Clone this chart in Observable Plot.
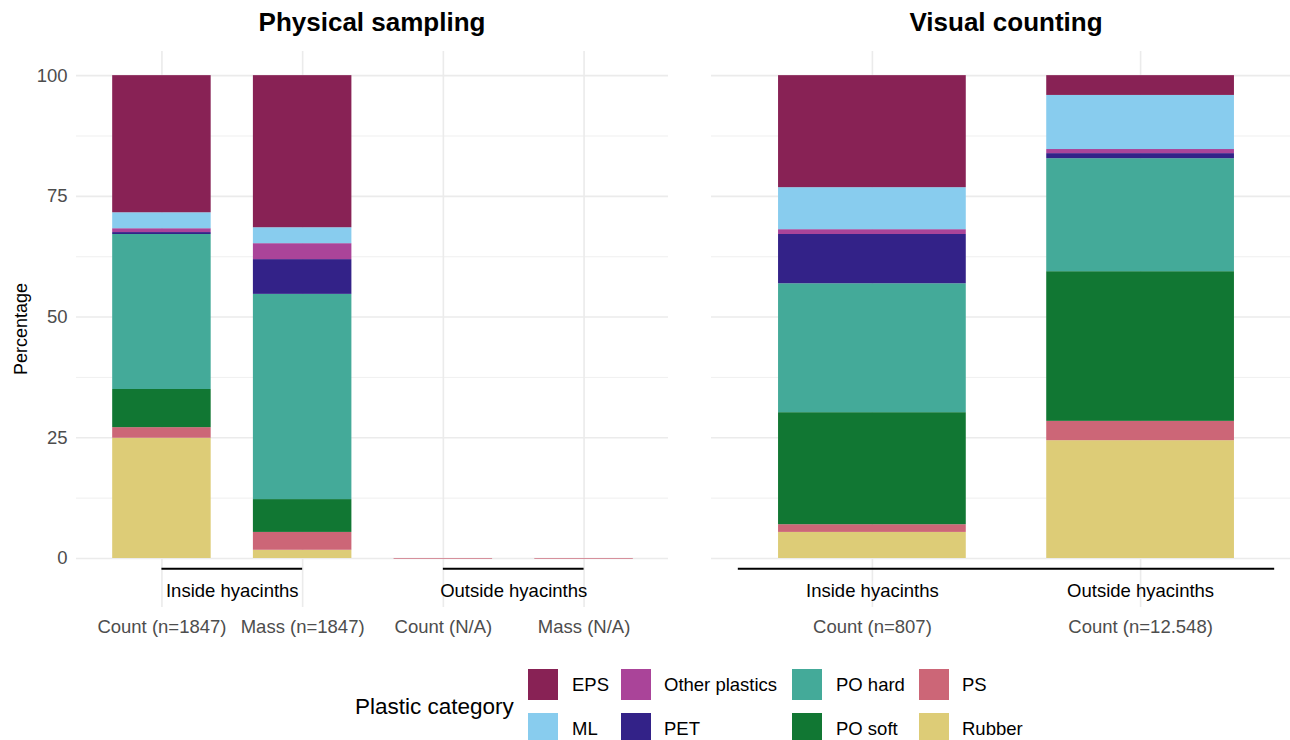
<!DOCTYPE html>
<html>
<head>
<meta charset="utf-8">
<script src="https://cdn.jsdelivr.net/npm/d3@7"></script>
<script src="https://cdn.jsdelivr.net/npm/@observablehq/plot@0.6"></script>
<style>
  html, body { margin: 0; padding: 0; background: #fff; }
  #root { position: relative; width: 1290px; height: 740px; overflow: hidden; font-family: "Liberation Sans", Arial, Helvetica, sans-serif; }
  .abs { position: absolute; white-space: nowrap; }
  .title { font-weight: bold; font-size: 26px; color: #000; transform: translateX(-50%); }
  .ylab { font-size: 18px; color: #000; transform: translate(-50%, -50%) rotate(-90deg); }
  .legtitle { font-size: 22.5px; color: #000; transform: translateY(-50%); }
  .legtext { font-size: 18.5px; color: #000; transform: translateY(-50%); }
  .sw { position: absolute; width: 30px; height: 31px; }
</style>
</head>
<body>
<div id="root"></div>
<script>
// ---------- data ----------
const categories = ["EPS", "ML", "Other plastics", "PET", "PO hard", "PO soft", "PS", "Rubber"];
const colors = ["#882255", "#88CCEE", "#AA4499", "#332288", "#44AA99", "#117733", "#CC6677", "#DDCC77"];
const stackOrder = ["Rubber", "PS", "PO soft", "PO hard", "PET", "Other plastics", "ML", "EPS"];

const facetTitles = ["Physical sampling", "Visual counting"];

const physSamples = ["Count (n=1847)", "Mass (n=1847)", "Count (N/A)", "Mass (N/A)"];
const physGroups = ["Inside hyacinths", "Inside hyacinths", "Outside hyacinths", "Outside hyacinths"];
// values in order of `categories`
const physCount = [28.4, 3.3, 0.8, 0.4, 32.1, 7.9, 2.2, 24.9];
const physMass = [31.5, 3.3, 3.3, 7.2, 42.5, 6.8, 3.7, 1.7];
const physCountNA = [0, 0, 0, 0, 0, 0, 0, 0];
const physMassNA = [0, 0, 0, 0, 0, 0, 0, 0];

const visSamples = ["Count (n=807)", "Count (n=12.548)"];
const visGroups = ["Inside hyacinths", "Outside hyacinths"];
const visInside = [23.2, 8.7, 1.0, 10.2, 26.7, 23.2, 1.6, 5.4];
const visOutside = [4.1, 11.2, 0.85, 1.05, 23.4, 31.0, 4.0, 24.4];

const yTicks = [0, 25, 50, 75, 100];
const yMinor = [12.5, 37.5, 62.5, 87.5];

// ---------- helpers ----------
function stackRows(seriesList) {
  const rows = [];
  seriesList.forEach((vals, i) => {
    let acc = 0;
    stackOrder.forEach(cat => {
      const v = vals[categories.indexOf(cat)];
      rows.push({ i, cat, y1: acc, y2: acc + v, v });
      acc += v;
    });
  });
  return rows;
}
function groupSpans(groups) {
  const names = Array.from(new Set(groups));
  return names.map(name => {
    const idx = groups.map((g, i) => g === name ? i : -1).filter(i => i >= 0);
    let start = d3.min(idx), end = d3.max(idx);
    if (start === end) { start -= 0.5; end += 0.5; }
    return { name, start, end, mid: (start + end) / 2 };
  });
}

const FONT = '"Liberation Sans", Arial, Helvetica, sans-serif';
const GRID = "#ebebeb";
const HALF = 0.35; // half bar width in category units

function panel({ samples, groups, series, width, marginLeft, xRange, showY }) {
  const rows = stackRows(series);
  const bars = rows.filter(d => d.v > 0);
  const empty = series.map((vals, i) => ({ i, total: d3.sum(vals) })).filter(d => d.total === 0);
  const spans = groupSpans(groups);
  const idx = samples.map((_, i) => i);
  const marks = [
    Plot.ruleY(yMinor, { stroke: GRID, strokeWidth: 0.8 }),
    Plot.ruleY(yTicks, { stroke: GRID, strokeWidth: 1.6 }),
    Plot.ruleX(idx, { stroke: GRID, strokeWidth: 1.6 }),
    Plot.rectY(bars, { x1: d => d.i - HALF, x2: d => d.i + HALF, y1: "y1", y2: "y2", fill: "cat" }),
    Plot.ruleY(empty, { x1: d => d.i - HALF, x2: d => d.i + HALF, y: "total", stroke: colors[categories.indexOf("PS")], strokeOpacity: 0.7, strokeWidth: 1 }),
    Plot.ruleY(spans, { x1: "start", x2: "end", y: -2.1, stroke: "#000", strokeWidth: 2 }),
    Plot.text(spans, { x: "mid", y: -6.7, text: "name", fill: "#000", fontSize: 18.5 }),
    Plot.axisX({ ticks: idx, tickFormat: i => samples[i], tickSize: 0, tickPadding: 12, label: null, fontSize: 18.5 })
  ];
  if (showY) marks.push(Plot.axisY({ ticks: yTicks, tickSize: 0, tickPadding: 9, label: null, fontSize: 18.5 }));
  else marks.push(Plot.axisY({ ticks: [], label: null }));
  return Plot.plot({
    width, height: 645,
    marginLeft, marginRight: 0, marginTop: 51, marginBottom: 38,
    x: { domain: [-0.6, samples.length - 0.4], range: xRange },
    y: { domain: [-10.15, 105] },
    color: { domain: categories, range: colors },
    style: { fontFamily: FONT, fontSize: "18.5px", color: "#4d4d4d", background: "transparent", overflow: "visible" },
    marks
  });
}

const root = document.getElementById("root");

const left = panel({ samples: physSamples, groups: physGroups, series: [physCount, physMass, physCountNA, physMassNA],
  width: 668, marginLeft: 76, xRange: [77, 668], showY: true });
left.style.position = "absolute"; left.style.left = "0px"; left.style.top = "0px";
root.appendChild(left);

const right = panel({ samples: visSamples, groups: visGroups, series: [visInside, visOutside],
  width: 579, marginLeft: 0, xRange: [0, 590], showY: false });
right.style.position = "absolute"; right.style.left = "711px"; right.style.top = "0px";
root.appendChild(right);

// facet titles
[[facetTitles[0], 372], [facetTitles[1], 1006]].forEach(([t, x]) => {
  const d = document.createElement("div");
  d.className = "abs title"; d.textContent = t;
  d.style.left = x + "px"; d.style.top = "7px";
  root.appendChild(d);
});

// y axis title
const yl = document.createElement("div");
yl.className = "abs ylab"; yl.textContent = "Percentage";
yl.style.left = "21px"; yl.style.top = "329px";
root.appendChild(yl);

// legend
const lt = document.createElement("div");
lt.className = "abs legtitle"; lt.textContent = "Plastic category";
lt.style.left = "355px"; lt.style.top = "707px";
root.appendChild(lt);
const swX = [528, 621, 792, 919];
const txX = [572, 664, 836, 962];
const rowY = [669, 713];
categories.forEach((c, k) => {
  const col = Math.floor(k / 2), row = k % 2;
  const s = document.createElement("div");
  s.className = "sw"; s.style.left = swX[col] + "px"; s.style.top = rowY[row] + "px"; s.style.background = colors[k];
  root.appendChild(s);
  const t = document.createElement("div");
  t.className = "abs legtext"; t.textContent = c;
  t.style.left = txX[col] + "px"; t.style.top = (rowY[row] + 16) + "px";
  root.appendChild(t);
});
</script>
</body>
</html>
